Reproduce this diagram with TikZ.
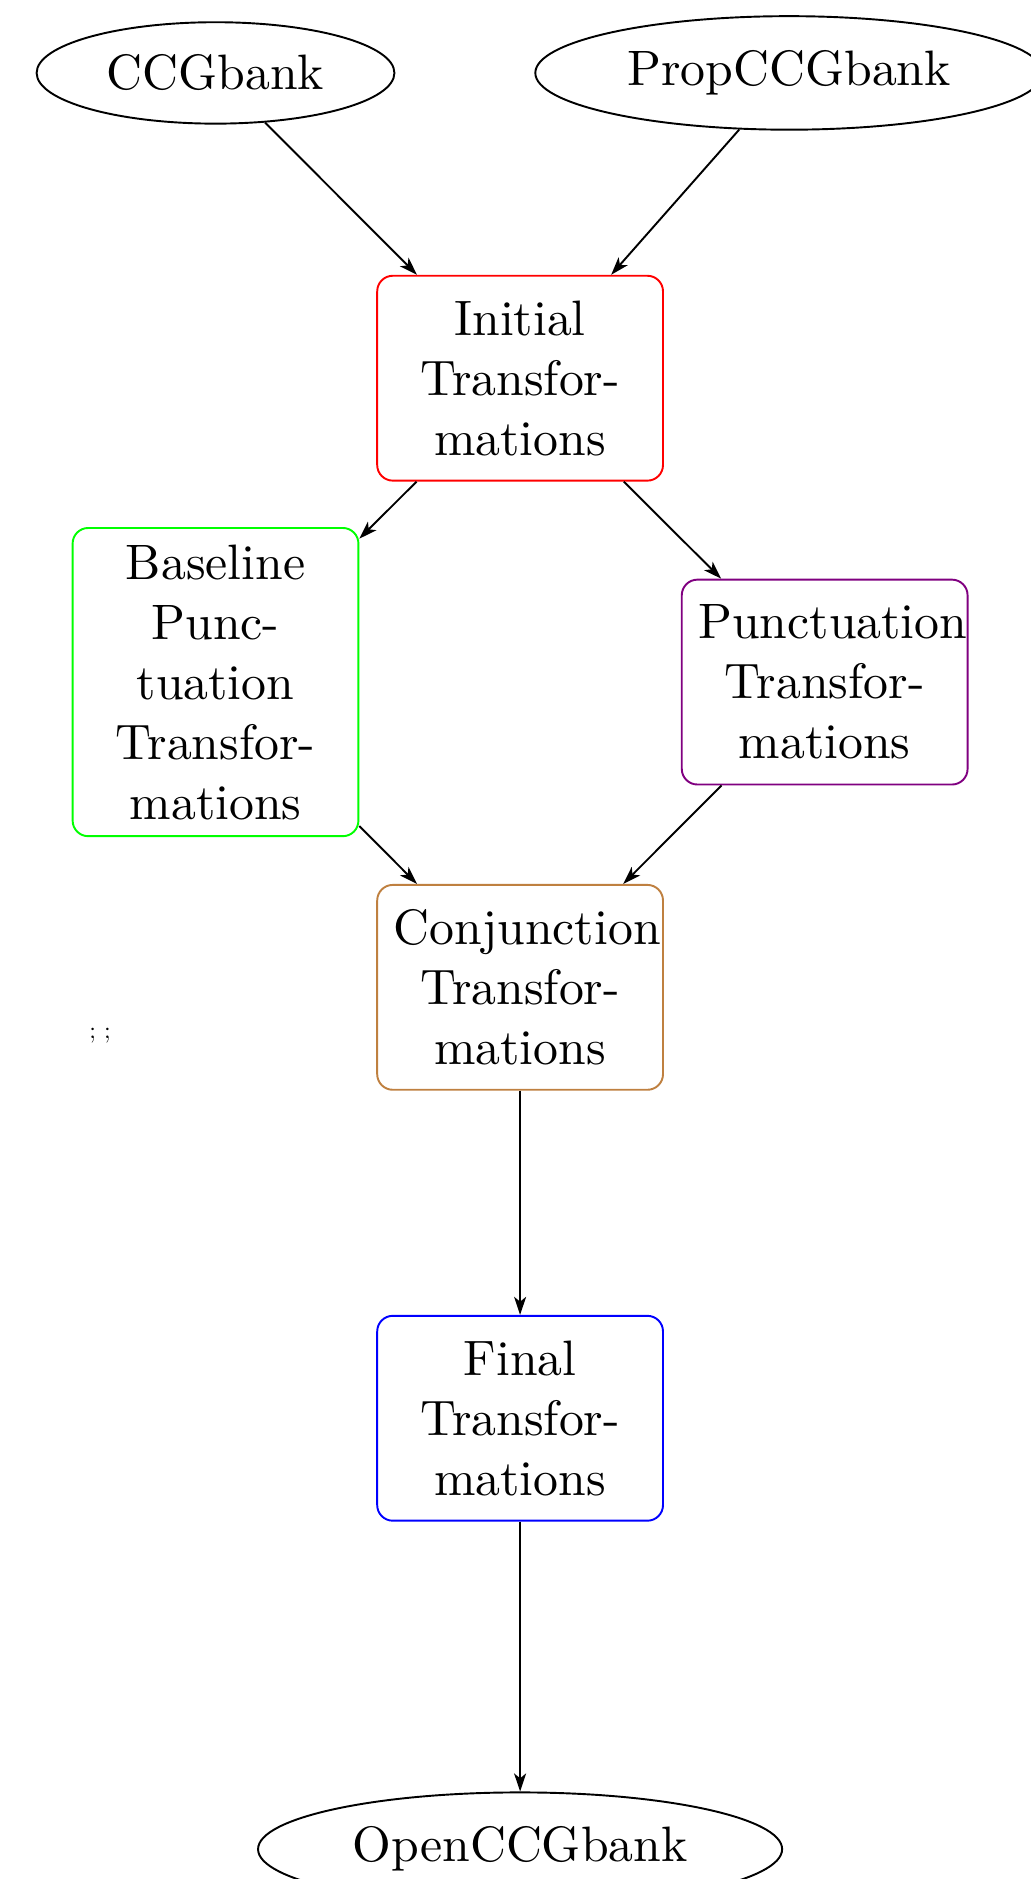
\documentclass[tikz,border=0pt]{standalone}
\usepackage{xcolor}
\usepackage{tikz}
\usetikzlibrary{shapes.geometric, arrows.meta, positioning}
\font\bankfont="[lmroman10-regular]" at 20.74pt
\newcommand{\bigtext}{\fontsize{20.74pt}{25pt}\selectfont\bankfont}
\tikzset{
  bank/.style={
    ellipse, draw=black, font=\bigtext,
    inner sep=7.4pt, line width=0.8pt,
  },
  stage/.style={
    rectangle, rounded corners=6.5pt,
    draw, text width=3.7cm, minimum height=3cm,
    text centered, font=\bigtext,
    inner sep=6.9pt, line width=0.8pt,
  },
  arrow/.style={-{Stealth[length=7.5pt, width=5pt, inset=2pt]}, line width=0.8pt, black},
  stray/.style={font=\normalsize},
}
\begin{document}
\begin{tikzpicture}
  \useasboundingbox (-3.156,1.068) rectangle (11.928,-26.447);

  % Input treebanks
  \node[bank] (ccg)  at (0,0)    {CCGbank};
  \node[bank] (prop) at (8.40,0) {PropCCGbank};

  % Transformation stages
  \node[stage, draw=red]    (initial)   at (4.46,-4.47)  {Initial Transformations};
  \node[stage, draw=green]  (basepunct) at (0,-8.92)     {Baseline Punctuation Transformations};
  \node[stage, draw=violet] (punct)     at (8.92,-8.92)  {Punctuation Transformations};
  \node[stage, draw=brown]  (conj)      at (4.46,-13.39) {Conjunction Transformations};
  \node[stage, draw=blue]   (final)     at (4.46,-19.70) {Final Transformations};

  % Output
  \node[bank] (open) at (4.46,-26.01) {OpenCCGbank};

  \node[stray] (semi) at (-1.69,-14.09) {; ;};

  % Arrows through the pipeline
  \foreach \from/\to in {
    ccg/initial, prop/initial, initial/basepunct, initial/punct,
    basepunct/conj, punct/conj, conj/final, final/open}
    \draw[arrow] (\from) -- (\to);

\end{tikzpicture}
\end{document}
